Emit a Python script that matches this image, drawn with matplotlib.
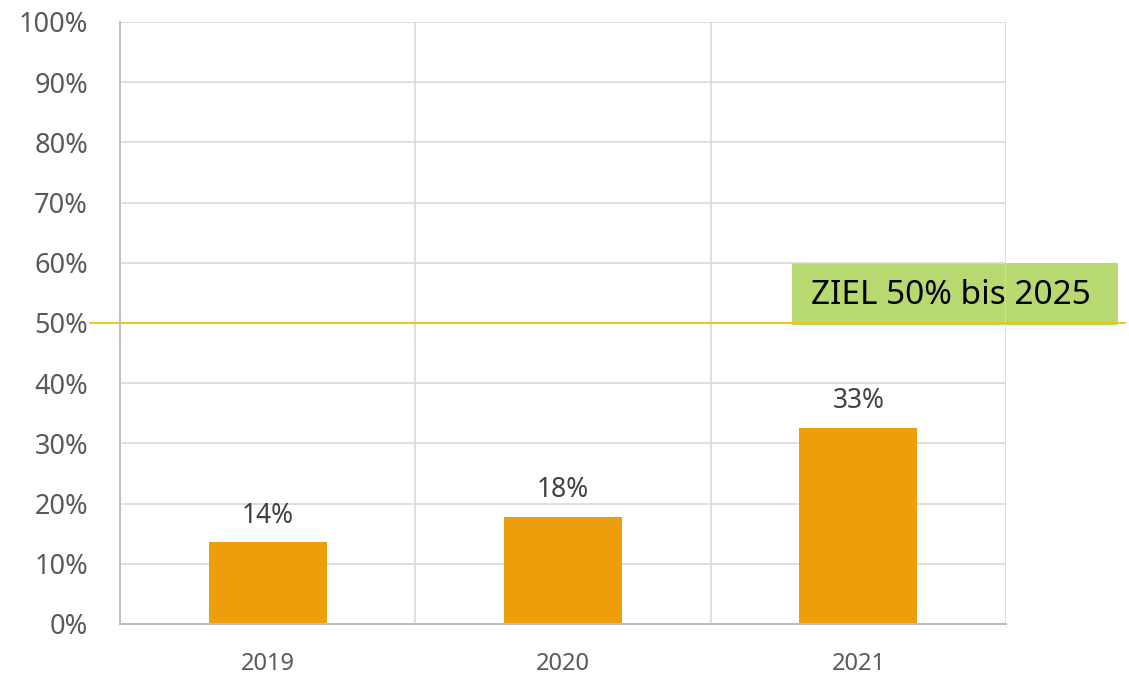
import matplotlib.pyplot as plt
from matplotlib.patches import Rectangle

plt.rcParams['font.family'] = ['Noto Sans', 'DejaVu Sans']

years = ['2019', '2020', '2021']
shares = [13.6, 17.8, 32.6]
share_labels = ['14%', '18%', '33%']
target = 50
target_label = 'ZIEL 50% bis 2025'
y_ticks = list(range(0, 101, 10))

bar_color = '#EC9F0A'
grid_color = '#D9D9D9'
text_gray = '#595959'

fig = plt.figure(figsize=(11.29, 6.74), dpi=100)
ax = fig.add_axes([0.1063, 0.0742, 0.7848, 0.8932])

x = [i + 0.5 for i in range(len(years))]
ax.bar(x, shares, width=0.4, color=bar_color, zorder=3)

for xi, v, lab in zip(x, shares, share_labels):
    ax.annotate(lab, (xi, v), xytext=(0, 9), textcoords='offset points',
                ha='center', va='bottom', fontsize=19, color='#404040')

ax.set_xlim(0, len(years))
ax.set_ylim(0, 100)
ax.set_xticks(x)
ax.set_xticklabels(years)
ax.set_xticks(range(len(years) + 1), minor=True)
ax.set_yticks(y_ticks)
ax.set_yticklabels([f'{t}%' for t in y_ticks])

ax.tick_params(axis='x', which='both', length=0, pad=20, labelsize=17, labelcolor=text_gray)
ax.tick_params(axis='y', length=0, pad=23, labelsize=19.5, labelcolor=text_gray)

ax.grid(axis='y', color=grid_color, linewidth=1.2)
ax.grid(axis='x', which='minor', color=grid_color, linewidth=1.2)
ax.grid(axis='x', which='major', visible=False)

for s in ['top', 'right']:
    ax.spines[s].set_visible(False)
for s in ['left', 'bottom']:
    ax.spines[s].set_color('#BFBFBF')
    ax.spines[s].set_linewidth(1.5)
    ax.spines[s].set_zorder(4)

# target line reaching outside the plot area
ax.axhline(target, xmin=-0.034, xmax=1.134, color='#F2C500', linewidth=1.3,
           clip_on=False, zorder=2)

tr = ax.get_yaxis_transform()
box = Rectangle((0.758, target - 0.3), 0.368, 10.3, transform=tr,
                facecolor='#B7D96F', edgecolor='none', clip_on=False, zorder=0.4)
ax.add_patch(box)
ax.text(0.938, target + 4.6, target_label, transform=tr, ha='center', va='center',
        fontsize=24, color='black', zorder=5, clip_on=False)

fig.savefig('out.png', dpi=100)
